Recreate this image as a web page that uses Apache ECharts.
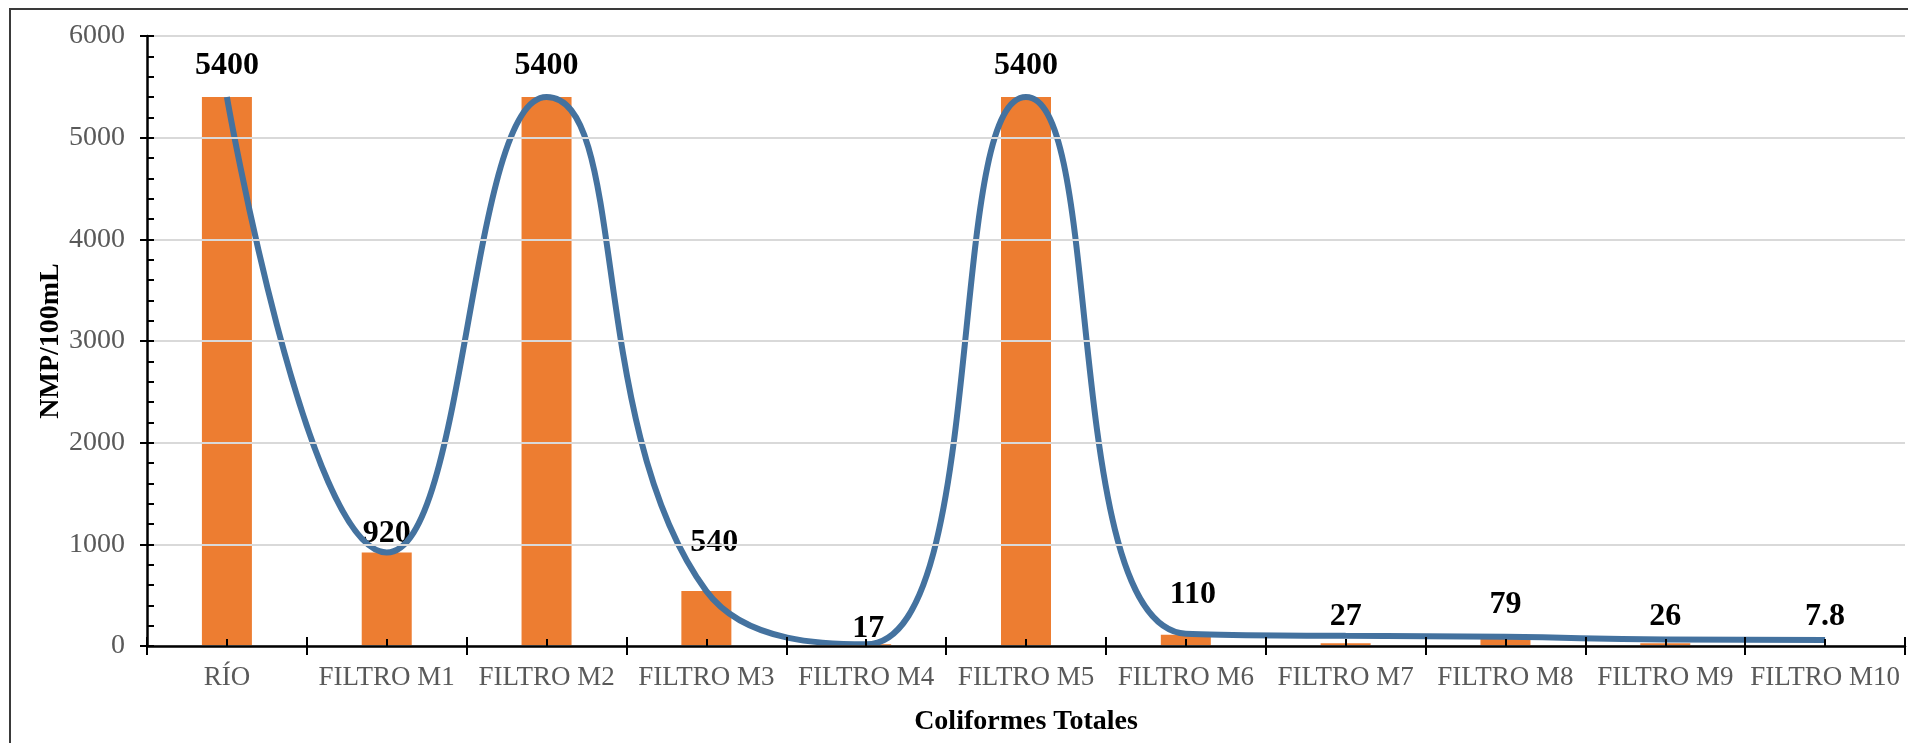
<!DOCTYPE html>
<html>
<head>
<meta charset="utf-8">
<script src="https://cdn.jsdelivr.net/npm/echarts@6/dist/echarts.min.js"></script>
<style>
  html, body { margin: 0; padding: 0; background: #ffffff; }
  #chart { width: 1908px; height: 743px; }
</style>
</head>
<body>
<div id="chart"></div>
<script>
// Sampling points along the treatment train
const categories = ['RÍO', 'FILTRO M1', 'FILTRO M2', 'FILTRO M3', 'FILTRO M4', 'FILTRO M5',
                    'FILTRO M6', 'FILTRO M7', 'FILTRO M8', 'FILTRO M9', 'FILTRO M10'];
// Total coliforms, NMP/100mL (bars, labelled)
const barValues = [5400, 920, 5400, 540, 17, 5400, 110, 27, 79, 26, 7.8];
// Smoothed trend line values
const lineValues = [5400, 920, 5400, 540, 17, 5400, 120, 100, 90, 65, 60];
// Value axis range and step
const yMin = 0, yMax = 6000, yStep = 1000;

// Label placement tweaks (gap above bar top, horizontal nudge), in px
const labelGap = [15, 3, 15, 32, 0, 15, 24, 11, 17, 11, 12];
const labelDx = [0, 0, 0, 8, 2, 0, 7, 0, 0, 0, 0];

const FONT = "'Liberation Serif', 'Times New Roman', serif";
const chart = echarts.init(document.getElementById('chart'), null, { renderer: 'canvas' });

const barData = barValues.map((v, i) => ({
  value: v,
  label: { distance: labelGap[i], offset: [labelDx[i], 0] }
}));

const hiddenCat = {
  type: 'category',
  data: categories,
  position: 'bottom',
  axisLine: { show: false },
  axisLabel: { show: false },
  splitLine: { show: false },
  z: 5
};

chart.setOption({
  backgroundColor: '#ffffff',
  animation: false,
  graphic: [{
    type: 'rect',
    shape: { x: 10, y: 9, width: 2000, height: 900 },
    style: { fill: 'none', stroke: '#3a3a3a', lineWidth: 2 },
    silent: true
  }],
  grid: { left: 147, right: 3, top: 36, bottom: 97, containLabel: false },
  xAxis: [
    {
      type: 'category',
      data: categories,
      position: 'bottom',
      boundaryGap: true,
      z: 5,
      axisLine: { show: true, lineStyle: { color: '#000000', width: 2.5 } },
      axisTick: { show: true, length: 9, lineStyle: { color: '#000000', width: 2 } },
      axisLabel: { interval: 0, margin: 18, fontFamily: FONT, fontSize: 27, color: '#595959' },
      name: 'Coliformes Totales',
      nameLocation: 'middle',
      nameGap: 62,
      nameMoveOverlap: false,
      nameTextStyle: { fontFamily: FONT, fontSize: 28, fontWeight: 'bold', color: '#000000' }
    },
    Object.assign({}, hiddenCat, {
      axisTick: { show: true, inside: true, length: 9, lineStyle: { color: '#000000', width: 2 } }
    }),
    Object.assign({}, hiddenCat, {
      axisTick: { show: true, inside: true, alignWithLabel: true, length: 7, lineStyle: { color: '#000000', width: 2 } }
    })
  ],
  yAxis: [
    {
      type: 'value',
      min: yMin, max: yMax, interval: yStep,
      position: 'left',
      z: 5,
      axisLine: { show: true, lineStyle: { color: '#000000', width: 2.5 } },
      axisTick: { show: true, length: 7, lineStyle: { color: '#000000', width: 2 } },
      axisLabel: { margin: 22, fontFamily: FONT, fontSize: 28, color: '#595959', formatter: v => String(v) },
      splitLine: { show: true, lineStyle: { color: '#d9d9d9', width: 2 } },
      name: 'NMP/100mL',
      nameLocation: 'middle',
      nameRotate: 90,
      nameGap: 82,
      nameMoveOverlap: false,
      nameTextStyle: { fontFamily: FONT, fontSize: 28, fontWeight: 'bold', color: '#000000' }
    },
    {
      type: 'value',
      min: yMin, max: yMax, interval: yStep,
      position: 'left',
      z: 5,
      axisLine: { show: false },
      axisLabel: { show: false },
      splitLine: { show: false },
      axisTick: { show: true, inside: true, length: 7, lineStyle: { color: '#000000', width: 2 } },
      minorTick: { show: true, splitNumber: 5, length: 7, lineStyle: { color: '#000000', width: 2 } }
    }
  ],
  series: [
    {
      type: 'bar',
      xAxisIndex: 0,
      yAxisIndex: 0,
      data: barData,
      barWidth: 50,
      itemStyle: { color: '#ed7d31' },
      label: {
        show: true,
        position: 'top',
        fontFamily: FONT,
        fontSize: 32,
        fontWeight: 'bold',
        color: '#000000'
      },
      z: 2
    },
    {
      type: 'line',
      xAxisIndex: 0,
      yAxisIndex: 0,
      data: lineValues,
      smooth: 0.5,
      showSymbol: false,
      symbol: 'none',
      lineStyle: { color: '#44729f', width: 6 },
      z: 3
    }
  ]
});
</script>
</body>
</html>
